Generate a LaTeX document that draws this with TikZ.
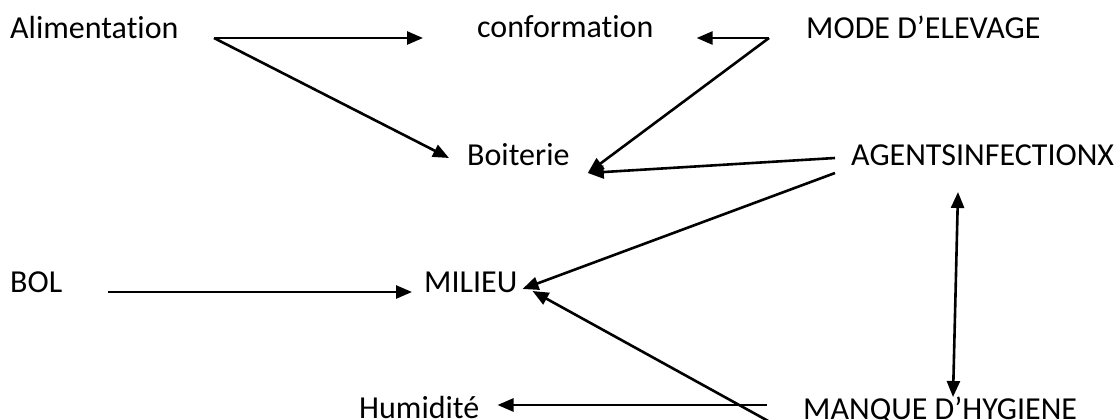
\documentclass[tikz,border=0pt]{standalone}
\usepackage{fontspec}
\setmainfont{Carlito}[Ligatures=NoCommon]
\usetikzlibrary{arrows.meta}
\begin{document}
\begin{tikzpicture}[x=1pt,y=-1pt,
        lbl/.style={anchor=base west,inner sep=0pt,font=\fontsize{32}{38}\selectfont},
        arr/.style={line width=2.6pt,-{Triangle[length=16pt,width=13pt]}}]
    \clip (0,0) rectangle (1116,420);
    \foreach \n/\x/\y/\t in {alim/10/39/Alimentation,conf/477/38/conformation,mode/806/39/MODE D’ELEVAGE,
            boit/467/165/Boiterie,agents/851/165/AGENTSINFECTIONX,bol/10/292/BOL,milieu/424/292/MILIEU,
            humid/359/418/Humidité,manque/803/419/MANQUE D’HYGIENE} {
        \node[lbl] (\n) at (\x,\y) {\t};
    }
    \draw[arr] ([shift={(204,-1)}]alim.base west) -- ([shift={(-54,0)}]conf.base west);
    \draw[arr] ([shift={(204,-1)}]alim.base west) -- ([shift={(-18,-7)}]boit.base west);
    \draw[arr] ([shift={(-37,-1)}]mode.base west) -- ([shift={(43,0)}]conf.base east);
    \draw[arr] ([shift={(-37,-1)}]mode.base west) -- ([shift={(18,8)}]boit.base east);
    \draw[arr] ([shift={(-16,-7)}]agents.base west) -- ([shift={(18,8)}]boit.base east);
    \draw[arr] ([shift={(-16,8)}]agents.base west) -- ([shift={(5,-3)}]milieu.base east);
    \draw[arr,{Triangle[length=16pt,width=13pt]}-{Triangle[length=16pt,width=13pt]}] ([shift={(107,27)}]agents.base west) -- ([shift={(150,-22)}]manque.base west);
    \draw[arr] ([shift={(46,0)}]bol.base east) -- ([shift={(-12,0)}]milieu.base west);
    \draw[arr] ([shift={(-33,3)}]manque.base west) -- ([shift={(15,-1)}]milieu.base east);
    \draw[arr] ([shift={(-36,-14)}]manque.base west) -- ([shift={(18,-13)}]humid.base east);
\end{tikzpicture}
\end{document}
